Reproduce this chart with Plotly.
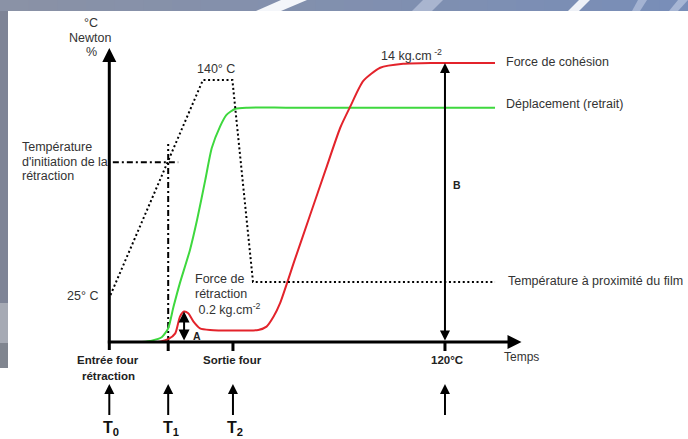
import plotly.graph_objects as go

W, H = 688, 439

# ---------------- data (schematic diagram, arbitrary time units, T0 = 0) ----------------
tick_times = [0, 10, 21, 57]
tick_names = ["T<sub>0</sub>", "T<sub>1</sub>", "T<sub>2</sub>", ""]
tick_texts = ["Entrée four<br>rétraction", "", "Sortie four", "120°C"]

# temperature near the film (°C)
temp_time = [0.2, 15.9, 20.9, 24.4, 65.5]
temp_degc = [25, 140, 140, 32, 32]

# displacement (shrink), relative units (force plateau = 100)
disp_time = [5.5, 7.2, 8.9, 10.0, 10.9, 12.0, 13.7, 14.9, 16.3, 17.4, 18.8, 19.9, 21.4,
             23.5, 30.0, 45.0, 65.5]
disp_rel = [0, 0.5, 1.7, 4.9, 12.6, 21.2, 33.0, 43.7, 58.1, 69.5, 77.2, 81.4, 83.6,
            84.0, 84.0, 84.0, 84.0]

# cohesion / retraction force, relative units (100 = 14 kg.cm-2)
force_time = [7.5, 8.6, 10.0, 11.2, 12.0, 12.7, 13.4, 14.3, 15.4, 17.1, 21.0, 25.3, 26.7,
              27.9, 29.0, 31.5, 34.1, 36.7, 39.2, 40.9, 43.1, 46.0, 49.9, 55.0, 65.5]
force_rel = [0, 0.1, 1.0, 3.1, 9.1, 10.9, 10.3, 7.3, 4.9, 4.3, 4.1, 4.3, 5.5,
             9.1, 13.9, 29.5, 45.5, 61.5, 76.7, 84.3, 93.5, 98.3, 99.7, 100, 100]

temp_init = 96          # retraction initiation temperature (°C)
t_init = tick_times[1]  # T1
bump_time, bump_val = 12.7, 10.9
force_max = 100

# ---------------- axis scales ----------------
XR = [-18.56, 98.27]
YR = [-34.77, 122.58]
Y2R = [-52.02, 182.79]

def px_y(py):   # pixel row -> relative-axis value
    return YR[0] + (H - py) / H * (YR[1] - YR[0])

def px_x(px):   # pixel column -> time value
    return XR[0] + px / W * (XR[1] - XR[0])

def P(px, py):
    return px / W, 1 - py / H

UX = (XR[1] - XR[0]) / W   # data units per pixel (x)
UY = (YR[1] - YR[0]) / H   # data units per pixel (y)

FONT = "Liberation Sans, Arial, sans-serif"
TXT = "#333333"
FS = 12.5
FB = 11.5

fig = go.Figure()

dash_dot = "6px,3px,2px,3px"
fig.add_trace(go.Scatter(x=[0.6, 11.7], y=[temp_init, temp_init], yaxis="y2", mode="lines",
                         line=dict(color="black", width=2, dash=dash_dot), hoverinfo="skip"))
fig.add_trace(go.Scatter(x=[t_init, t_init], y=[0, 71], mode="lines",
                         line=dict(color="black", width=2, dash=dash_dot), hoverinfo="skip"))

fig.add_trace(go.Scatter(x=temp_time, y=temp_degc, yaxis="y2", mode="lines",
                         line=dict(color="black", width=2, dash="2px,2.6px"), name="Température"))
fig.add_trace(go.Scatter(x=disp_time, y=disp_rel, mode="lines",
                         line=dict(color="#3ed83e", width=2, shape="spline", smoothing=0.6),
                         name="Déplacement"))
fig.add_trace(go.Scatter(x=force_time, y=force_rel, mode="lines",
                         line=dict(color="#e3232b", width=2, shape="spline", smoothing=0.6),
                         name="Force"))

# ---------------- arrows: line + arrow-head marker (tip at the data point) ----------------
def seg(xs, ys, width):
    fig.add_trace(go.Scatter(x=xs, y=ys, mode="lines", line=dict(color="black", width=width),
                             hoverinfo="skip"))

def head(x, y, symbol, size):
    fig.add_trace(go.Scatter(x=[x], y=[y], mode="markers", hoverinfo="skip",
                             marker=dict(symbol=symbol, size=size, color="black",
                                         line=dict(width=0))))

# vertical axis
y_tip = px_y(48)
seg([0, 0], [px_y(350), y_tip - 12 * UY], 3)
head(0, y_tip, "arrow-up", 14)
# time axis
x_tip = 70.0
seg([-0.25, x_tip - 12 * UX], [0, 0], 3)
head(x_tip, 0, "arrow-right", 14)
# tick marks below the time axis
for t in tick_times[1:]:
    seg([t, t], [0, px_y(351)], 3)
# up arrows under the time axis
for t in tick_times:
    tip = px_y(384)
    seg([t, t], [px_y(415), tip - 8 * UY], 2)
    head(t, tip, "arrow-up", 10)
# B arrow (total cohesion force)
bot = px_y(340.5)
seg([tick_times[3]] * 2, [bot + 8 * UY, force_max - 8 * UY], 2)
head(tick_times[3], force_max, "arrow-up", 10)
head(tick_times[3], bot, "arrow-down", 10)
# A arrow (retraction force peak)
seg([bump_time] * 2, [bot + 8 * UY, bump_val - 8 * UY], 2)
head(bump_time, bump_val, "arrow-up", 11)
head(bump_time, bot, "arrow-down", 11)

# ---------------- background decoration ----------------
shapes = []
n = 24
c0, c1 = (138, 146, 166), (121, 142, 184)
for i in range(n):
    f = i / (n - 1)
    col = "rgb(%d,%d,%d)" % tuple(int(c0[k] + (c1[k] - c0[k]) * f) for k in range(3))
    x0, y0 = P(i * W / n, 0)
    x1, y1 = P((i + 1) * W / n + 1, 11)
    shapes.append(dict(type="rect", xref="paper", yref="paper", x0=x0, x1=x1, y0=y1, y1=y0,
                       fillcolor=col, line_width=0, layer="below"))

def para(bl, br, tl, tr, col):
    pts = [P(bl, 11), P(br, 11), P(tr, 0), P(tl, 0)]
    path = "M" + " L".join("%f,%f" % p for p in pts) + " Z"
    return dict(type="path", xref="paper", yref="paper", path=path, fillcolor=col,
                line_width=0, layer="below")

shapes += [para(256, 281, 281, 307, "#f4f6fa"), para(412, 432, 423, 443, "#a9b5cf"),
           para(568, 579, 579, 590, "#eef1f7"), para(632, 640, 638, 647, "#a4b3d2"),
           para(669, 678, 678, 688, "#a7b6d4")]

def rect(px0, py0, px1, py1, col):
    x0, y0 = P(px0, py0)
    x1, y1 = P(px1, py1)
    return dict(type="rect", xref="paper", yref="paper", x0=x0, x1=x1, y0=y1, y1=y0,
                fillcolor=col, line_width=0, layer="below")

shapes += [rect(0, 11, 8, 303, "#7e8496"), rect(0, 303, 8, 343, "#a6aab4"),
           rect(0, 343, 8, 368, "#80858f")]

# ---------------- texts ----------------
ann = []

def text(s, px, py, size=FS, anchor="center", bold=False, color=TXT):
    x, y = P(px, py)
    if bold:
        s = "<b>" + s + "</b>"
    return dict(x=x, y=y, xref="paper", yref="paper", text=s, showarrow=False,
                xanchor=anchor, yanchor="middle", font=dict(family=FONT, size=size, color=color))

ann += [
    text("°C", 91, 23), text("Newton", 90, 38), text("%", 91, 52),
    text("140° C", 216, 69),
    text("Température", 20, 147, anchor="left"),
    text("d'initiation de la", 20, 162, anchor="left"),
    text("rétraction", 20, 176, anchor="left"),
    text("25° C", 100, 296, anchor="right"),
    text("Force de", 193, 279, anchor="left"),
    text("rétraction", 193, 294, anchor="left"),
    text(" 0.2 kg.cm<sup>-2</sup>", 193, 309, anchor="left"),
    text("A", 197, 336, size=10.5, bold=True, color="#222"),
    text("14 kg.cm<sup> -2</sup>", 412, 55),
    text("Force de cohésion", 504, 62, anchor="left"),
    text("Déplacement (retrait)", 504, 104, anchor="left"),
    text("Température à proximité du film", 506, 281, anchor="left"),
    text("B", 457, 185, size=10.5, bold=True, color="#222"),
    text("Temps", 502, 357, size=12, anchor="left"),
]
lab_px = [108, 168, 232, 447]
for t, lab, name, px in zip(tick_times, tick_texts, tick_names, lab_px):
    if lab:
        for j, ln in enumerate(lab.split("<br>")):
            ann.append(text(ln, px, 360 + 16 * j, size=FB, bold=True, color="#222"))
    if name:
        ann.append(text(name, px + 3, 428, size=16, bold=True, color="#111"))

fig.update_layout(
    width=W, height=H, autosize=False,
    margin=dict(l=0, r=0, t=0, b=0, pad=0),
    paper_bgcolor="white", plot_bgcolor="white",
    showlegend=False,
    xaxis=dict(range=XR, visible=False, fixedrange=True),
    yaxis=dict(range=YR, visible=False, fixedrange=True),
    yaxis2=dict(range=Y2R, visible=False, overlaying="y", fixedrange=True),
    shapes=shapes, annotations=ann,
)

fig.write_html("out.html", include_plotlyjs=True, config={"displayModeBar": False},
               post_script="document.body.style.margin='0';document.body.style.overflow='hidden';")
